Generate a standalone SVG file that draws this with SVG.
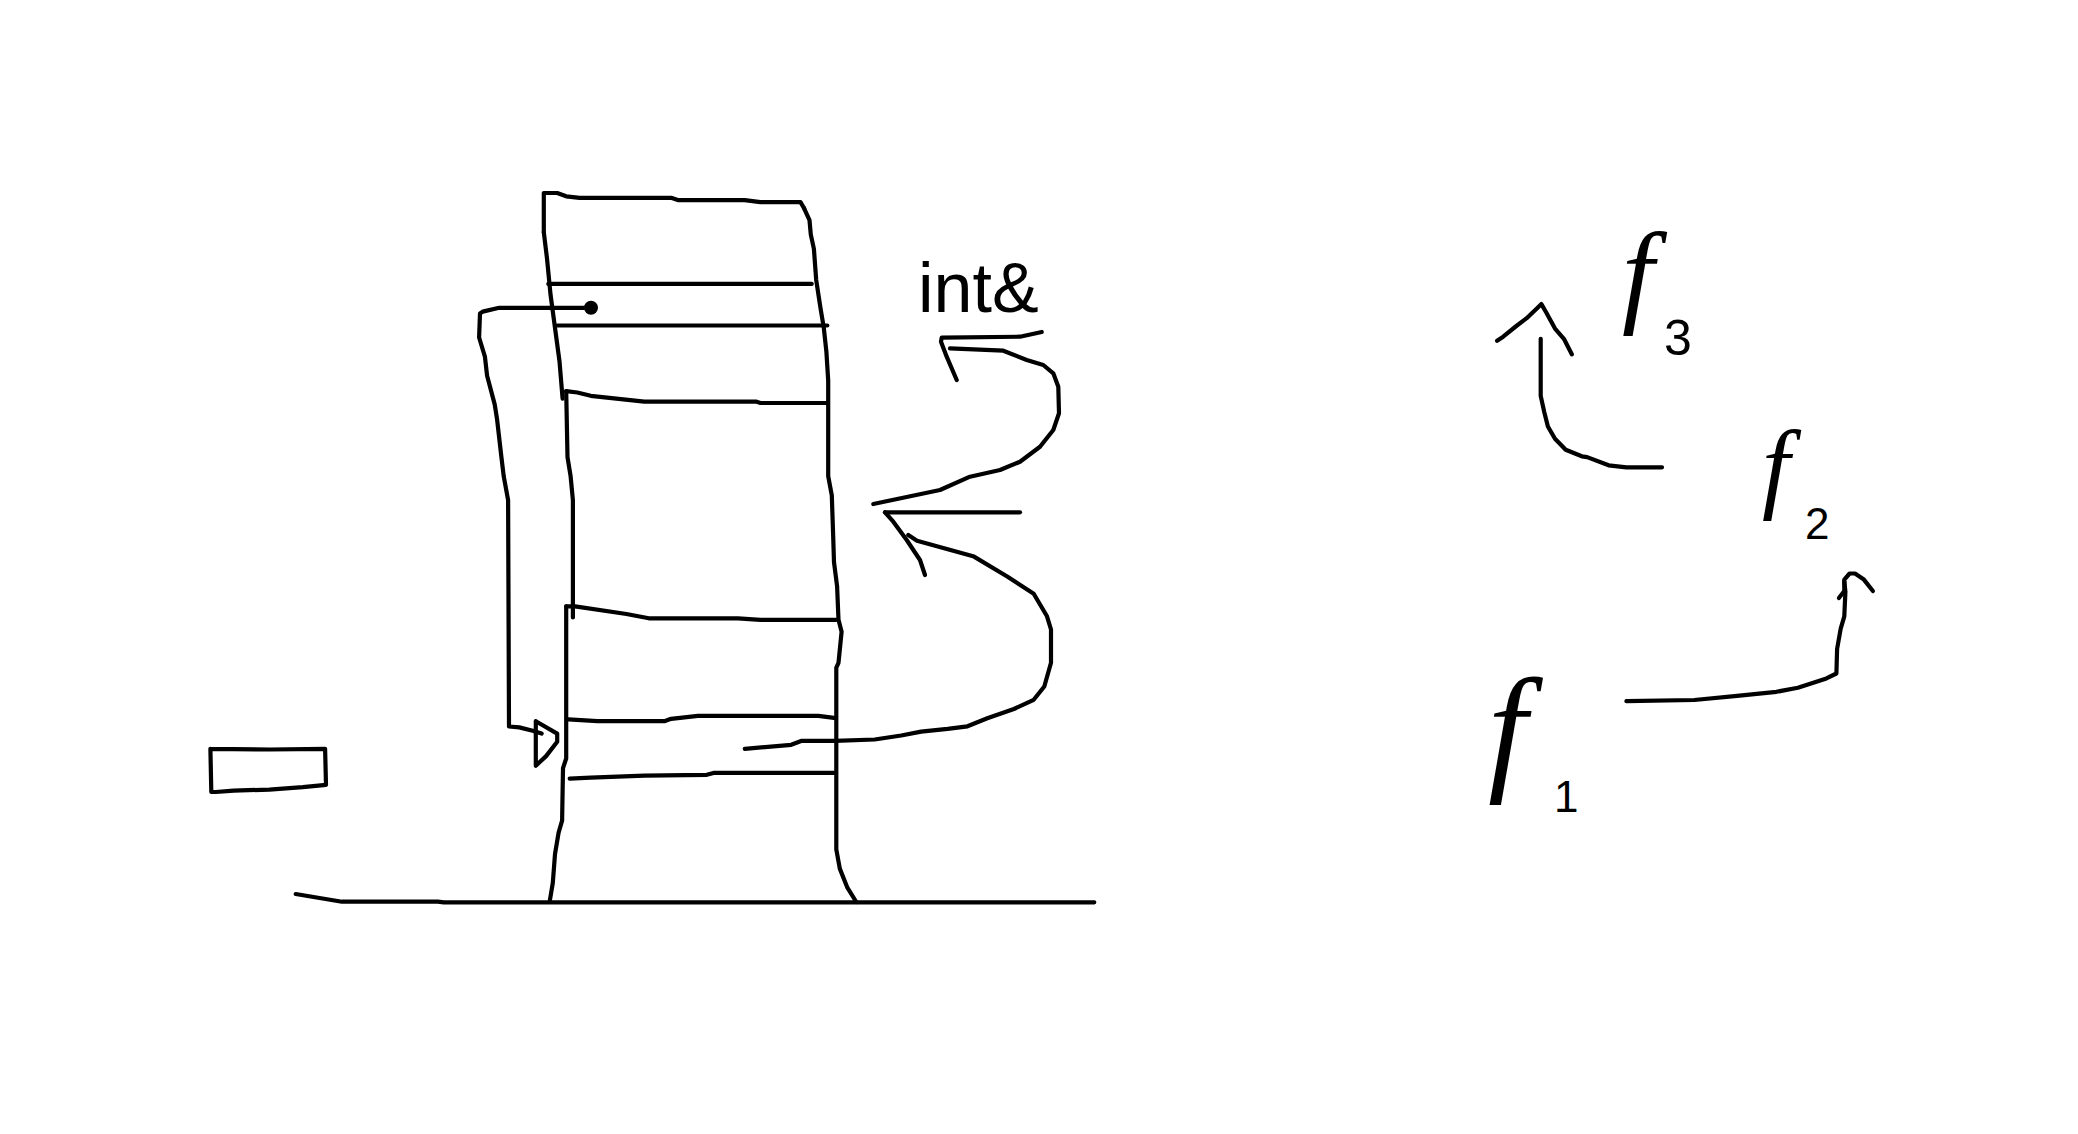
<svg xmlns="http://www.w3.org/2000/svg" width="2078" height="1134" viewBox="0 0 2078 1134">
<style>
.s{fill:none;stroke:#000;stroke-width:4.2;stroke-linecap:round;stroke-linejoin:round}
.t{font-family:"Liberation Sans",Arial,sans-serif;fill:#000}
.f{font-family:"Liberation Serif","Times New Roman",serif;font-style:italic;fill:#000}
.sub{font-family:"Liberation Sans",Arial,sans-serif;fill:#000}
</style>
<rect width="2078" height="1134" fill="#fff"/>
<g id="stack">
<polyline class="s" points="543.8,232.2 543.8,193 557.2,193 566.2,196.3 579.6,197.8 671.1,197.8 677.8,200.1 744.7,200.1 760.4,202.1 800.5,202.1 804.1,208.3"/>
<polyline class="s" points="543.8,232.2 547,258.5 550.5,294.4 555,327.9 559.5,361.4 562.6,398.7"/>
<polyline class="s" points="804.1,208.3 809.5,220.2 810.8,234.6 813.9,248.9 816.2,280 820.6,308.8 823.8,327.9 826.4,351.8 828.2,380.5 828.2,476.2 831.8,495.4 833.1,533.6 834,562.3 837.1,586.3 838.5,619.8 841.6,631.7 838.5,662.8 836.3,667.6 836.3,849.4 839.8,868.6 847.4,887.7 856.3,902"/>
<line class="s" x1="548.3" y1="283.9" x2="811.7" y2="283.9"/>
<line class="s" x1="557.2" y1="325.5" x2="827.3" y2="325.5"/>
<polyline class="s" points="566.2,391 567.5,457.1 570.6,476.2 572.9,500.1 572.9,617.4"/>
<polyline class="s" points="566.2,391.1 577.3,392.5 590.7,395.8 644.3,401.6 755.9,401.6 760.4,403 827.3,403"/>
<polyline class="s" points="566.2,606.4 575.1,606.4 626.4,614 648.8,618.3 738,618.3 760.4,619.8 836.3,619.8"/>
<polyline class="s" points="566.2,606.4 566.2,758.5 563,768.1 562.1,820.7 558.6,832.7 555,854.2 552.8,882.9 549.6,902"/>
<polyline class="s" points="568.4,719.3 597.4,721.2 664.4,721.2 671.1,718.8 697.9,715.9 818.4,715.9 834,717.8"/>
<polyline class="s" points="569.7,778.6 590.7,777.7 644.3,775.7 706.8,774.8 713.5,772.9 834,772.9"/>
</g>
<g id="baseline">
<polyline class="s" points="295.7,894 341.9,901.7 437.8,901.7 443.8,902.3 1094.3,902.3"/>
</g>
<g id="small-box">
<polyline class="s" points="210.4,748.9 270,749.5 325.1,748.9 326,784.8 302.8,787.2 269.3,789.6 233.6,790.6 215.7,792 211.3,792 210.4,748.9"/>
</g>
<g id="label-int">
<text class="t" x="918" y="312" font-size="70">int&amp;</text>
</g>
<g id="label-f3">
<text class="f" x="1622" y="312" font-size="115">f</text>
<text class="sub" x="1664" y="355" font-size="50">3</text>
</g>
<g id="label-f2">
<text class="f" x="1762" y="500" font-size="100">f</text>
<text class="sub" x="1805" y="539" font-size="44">2</text>
</g>
<g id="label-f1">
<text class="f" x="1488" y="775" font-size="140">f</text>
<text class="sub" x="1554" y="812" font-size="44">1</text>
</g>
<g id="connectors">
<circle cx="591" cy="307.8" r="7" fill="#000"/>
<polyline class="s" points="593,307.8 499.2,307.8 482.7,311.6 480,313.5 479.1,337.5 484.9,356.6 487.1,375.7 494.7,404.4 497,418.8 501.4,457.1 503.7,476.2 508.1,500.1 509,726.5 519.3,727.4 532.7,730.8 541.6,733.6"/>
<polyline class="s" points="535.8,721.2 557.2,733.6 557.2,741.8 546.1,756.1 535.8,765.7 535.8,721.2"/>
<polyline class="s" points="1041.7,332 1020,336.7 941.7,337.7 941,341.7 946.7,356.7 956.7,380"/>
<polyline class="s" points="950,348.3 1003.3,350.7 1026.7,360 1043.3,365 1053.3,373.3 1058.3,386.7 1059,413.3 1053.3,430 1040,446.7 1020,461.7 1000,470 970,476.7 940,490 873.3,504"/>
<polyline class="s" points="885,512.3 1020,512.3"/>
<polyline class="s" points="885,512.3 893.3,521.7 906.7,540 920,560 925,575"/>
<polyline class="s" points="908.3,535 917,540.7 974,556.6 1007.2,576.5 1033.7,593.7 1047,616.3 1051,629.5 1051,662.7 1044.3,686.5 1033.7,699.8 1013.9,709 987.3,718.3 967.5,726.3 947.6,728.9 921.1,731.6 901.2,735.5 874.7,739.5 834.9,740.8 801.8,740.8 791.2,744.8 744.8,748.8"/>
<polyline class="s" points="1662,467.3 1626.4,467.3 1608.6,465.3 1587.1,457.1 1581.8,456.3 1565.7,449.8 1555,438.8 1547.9,426.5 1544.3,412.2 1540.7,395.9 1540.7,338.8"/>
<polyline class="s" points="1497.1,340.8 1503.2,336.7 1515.7,326.5 1526.4,318.4 1537.1,308.2 1541.4,304.1 1546.1,312.2 1555,328.6 1563.9,338.8 1571.8,354.3"/>
<polyline class="s" points="1626.4,701.2 1694.3,700 1737.1,695.9 1776.4,691.8 1797.9,687.8 1826.4,678.4 1836.4,673.5 1837.1,649 1840.7,628.6 1844.3,616.3 1845.4,591.8 1844.3,581.6"/>
<polyline class="s" points="1838.9,598 1844.3,591 1844.3,579.6 1849.6,573.5 1855,573.5 1863.9,579.6 1872.9,591"/>
</g>
</svg>
